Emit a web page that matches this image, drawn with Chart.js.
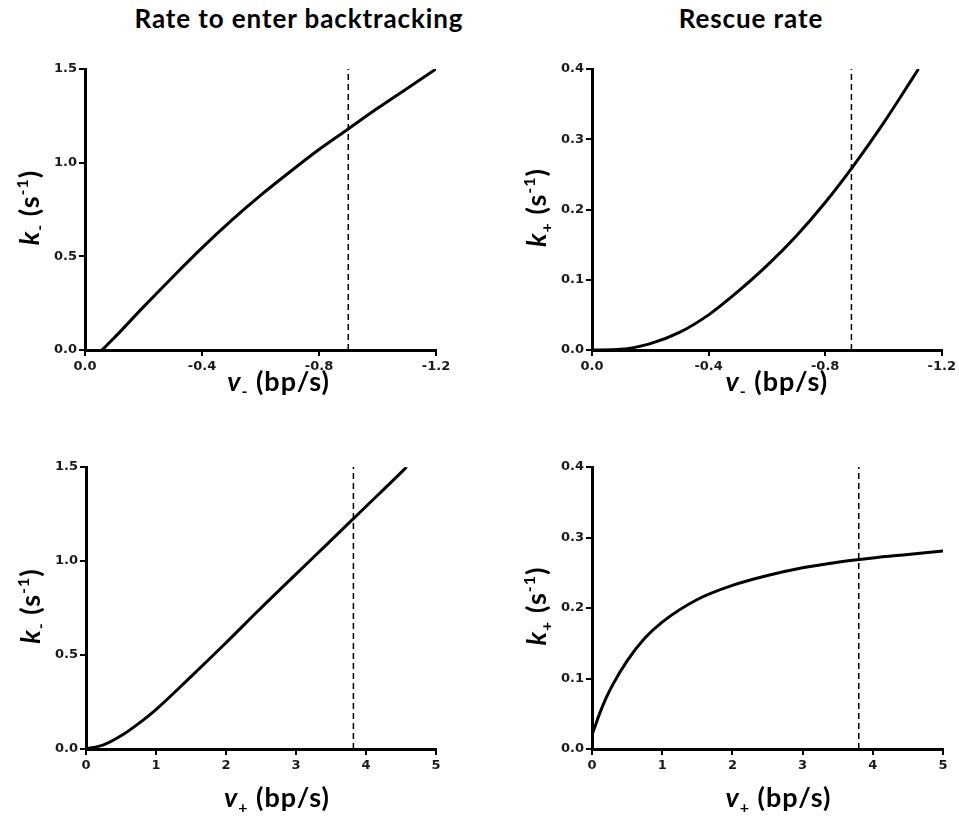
<!DOCTYPE html>
<html>
<head>
<meta charset="utf-8">
<script src="https://cdn.jsdelivr.net/npm/chart.js@4"></script>
<style>
  body { margin: 0; background: #fff; width: 959px; height: 822px; position: relative; overflow: hidden; }
  .title { position: absolute; top: 2px; width: 420px; text-align: center; font: bold 26px Lato, sans-serif; letter-spacing: 0.9px; color: #000; }
  canvas { position: absolute; }
</style>
</head>
<body>
<div class="title" style="left:89px">Rate to enter backtracking</div>
<div class="title" style="left:541px">Rescue rate</div>
<canvas id="tl" width="479" height="360" style="left:0;top:50px"></canvas>
<canvas id="tr" width="479" height="360" style="left:480px;top:50px"></canvas>
<canvas id="bl" width="479" height="382" style="left:0;top:440px"></canvas>
<canvas id="br" width="479" height="382" style="left:480px;top:440px"></canvas>
<script>
// k- against v- (top left)
var vMinusA = [-0.058, -0.1, -0.2, -0.3, -0.4, -0.5, -0.6, -0.7, -0.8, -0.9, -1.0, -1.1, -1.2];
var kMinusA = [0, 0.065, 0.23, 0.39, 0.545, 0.69, 0.825, 0.95, 1.07, 1.18, 1.29, 1.395, 1.5];
// k+ against v- (top right)
var vMinusB = [0, -0.1, -0.2, -0.3, -0.4, -0.5, -0.6, -0.7, -0.8, -0.9, -1.0, -1.1, -1.12];
var kPlusB = [0, 0.001, 0.009, 0.025, 0.05, 0.083, 0.12, 0.162, 0.21, 0.264, 0.323, 0.387, 0.4];
// k- against v+ (bottom left)
var vPlusC = [0, 0.25, 0.5, 0.75, 1.0, 1.5, 2.0, 2.5, 3.0, 3.5, 4.0, 4.5, 4.58];
var kMinusC = [0, 0.022, 0.07, 0.135, 0.21, 0.385, 0.565, 0.75, 0.93, 1.11, 1.29, 1.47, 1.5];
// k+ against v+ (bottom right)
var vPlusD = [0, 0.05, 0.1, 0.2, 0.3, 0.5, 0.75, 1.0, 1.5, 2.0, 2.5, 3.0, 3.5, 4.0, 4.5, 5.0];
var kPlusD = [0.02, 0.034, 0.048, 0.072, 0.092, 0.125, 0.157, 0.18, 0.212, 0.232, 0.246, 0.257, 0.265, 0.271, 0.276, 0.281];
// dashed reference velocities
var refV = [-0.9, -0.89, 3.82, 3.8];

function toPoints(xs, ys) {
  return xs.map(function (x, i) { return { x: x, y: ys[i] }; });
}

function fontFor(p) {
  var size = (p.sub || p.sup) ? 16 : 27;
  return (p.it ? 'italic ' : '') + 'bold ' + size + 'px Lato';
}

function drawRich(ctx, parts, cx, y) {
  var w = 0;
  ctx.letterSpacing = '1px';
  parts.forEach(function (p) { ctx.font = fontFor(p); w += ctx.measureText(p.t).width; });
  var x = cx - w / 2;
  ctx.textAlign = 'left';
  ctx.textBaseline = 'alphabetic';
  parts.forEach(function (p) {
    ctx.font = fontFor(p);
    ctx.fillText(p.t, x, y + (p.sub ? 6 : p.sup ? -11 : 0));
    x += ctx.measureText(p.t).width;
  });
}

var axisTitles = {
  id: 'axisTitles',
  afterDraw: function (chart, args, opts) {
    var ctx = chart.ctx, a = chart.chartArea;
    ctx.save();
    ctx.fillStyle = '#000';
    drawRich(ctx, opts.x, (a.left + a.right) / 2 + opts.xShift, a.bottom + opts.xGap);
    ctx.translate(a.left - 46, (a.top + a.bottom) / 2 - 2);
    ctx.rotate(-Math.PI / 2);
    drawRich(ctx, opts.y, 0, 0);
    ctx.restore();
  }
};

var kMinusLabel = [{ t: 'k', it: true }, { t: '-', sub: true }, { t: ' (s' }, { t: '-1', sup: true }, { t: ')' }];
var kPlusLabel = [{ t: 'k', it: true }, { t: '+', sub: true }, { t: ' (s' }, { t: '-1', sup: true }, { t: ')' }];
var vMinusLabel = [{ t: 'v', it: true }, { t: '-', sub: true }, { t: ' (bp/s)' }];
var vPlusLabel = [{ t: 'v', it: true }, { t: '+', sub: true }, { t: ' (bp/s)' }];

var tickFont = { family: 'DejaVu Sans', weight: 'bold', size: 13 };

function axis(min, max, step, reverse, decimals, fitSize, isY) {
  return {
    type: 'linear',
    min: min,
    max: max,
    reverse: reverse,
    border: { display: true, color: '#000', width: 3 },
    grid: { drawOnChartArea: false, drawTicks: true, tickLength: 6, color: '#000', lineWidth: 2 },
    ticks: {
      stepSize: step,
      color: '#1a1a1a',
      font: tickFont,
      padding: isY ? 2 : 3,
      callback: function (v) { return Number(v).toFixed(decimals); }
    },
    afterFit: function (s) { if (isY) s.width = fitSize; else s.height = fitSize; }
  };
}

function makeChart(id, xs, ys, ref, xScale, yScale, yTop, pad, labels) {
  new Chart(id, {
    type: 'scatter',
    data: {
      datasets: [{
        data: toPoints(xs, ys),
        showLine: true,
        borderColor: '#000',
        borderWidth: 3,
        pointRadius: 0,
        cubicInterpolationMode: 'monotone'
      }, {
        data: [{ x: ref, y: 0 }, { x: ref, y: yTop }],
        showLine: true,
        borderColor: '#000',
        borderWidth: 1.5,
        borderDash: [6, 4],
        pointRadius: 0
      }]
    },
    options: {
      responsive: false,
      animation: false,
      events: [],
      layout: { padding: pad },
      scales: { x: xScale, y: yScale },
      plugins: {
        legend: { display: false },
        tooltip: { enabled: false },
        axisTitles: labels
      }
    },
    plugins: [axisTitles]
  });
}

makeChart('tl', vMinusA, kMinusA, refV[0],
  axis(-1.2, 0, 0.4, true, 1, 30, false), axis(0, 1.5, 0.5, false, 1, 55, true), 1.5,
  { left: 30, top: 19, right: 43, bottom: 30 },
  { x: vMinusLabel, y: kMinusLabel, xShift: 18, xGap: 41 });

makeChart('tr', vMinusB, kPlusB, refV[1],
  axis(-1.2, 0, 0.4, true, 1, 30, false), axis(0, 0.4, 0.1, false, 1, 55, true), 0.4,
  { left: 57, top: 19, right: 16, bottom: 30 },
  { x: vMinusLabel, y: kPlusLabel, xShift: 10, xGap: 41 });

makeChart('bl', vPlusC, kMinusC, refV[2],
  axis(0, 5, 1, false, 0, 30, false), axis(0, 1.5, 0.5, false, 1, 55, true), 1.5,
  { left: 31, top: 27, right: 43, bottom: 43 },
  { x: vPlusLabel, y: kMinusLabel, xShift: 16, xGap: 58 });

makeChart('br', vPlusD, kPlusD, refV[3],
  axis(0, 5, 1, false, 0, 30, false), axis(0, 0.4, 0.1, false, 1, 55, true), 0.4,
  { left: 57, top: 27, right: 16, bottom: 43 },
  { x: vPlusLabel, y: kPlusLabel, xShift: 11, xGap: 58 });
</script>
</body>
</html>
